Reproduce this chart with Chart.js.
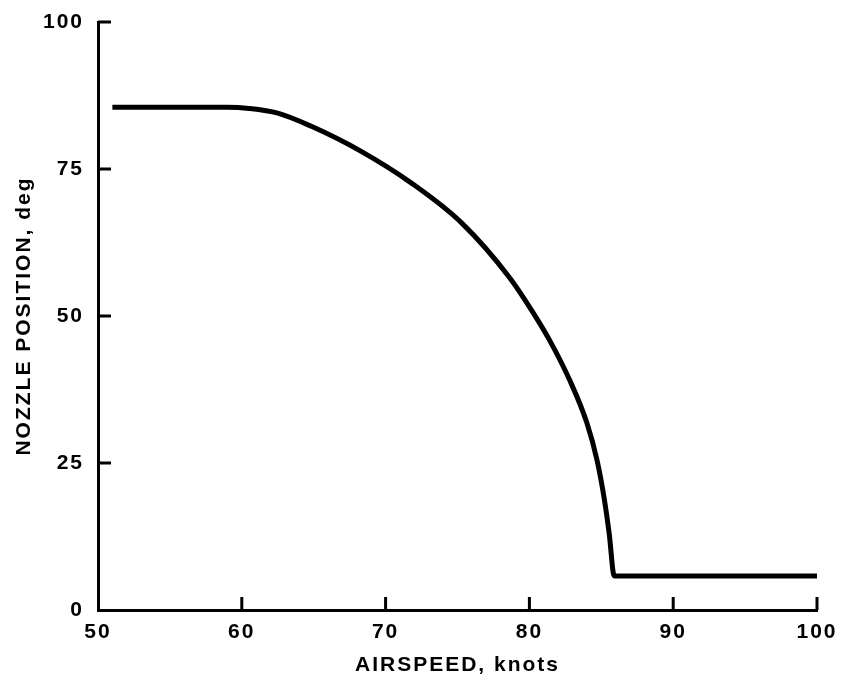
<!DOCTYPE html>
<html>
<head>
<meta charset="utf-8">
<title>Nozzle position vs airspeed</title>
<script src="https://cdn.jsdelivr.net/npm/chart.js@4"></script>
<style>
    body { margin: 0; background: #fff; }
    #wrap { width: 844px; height: 688px; }
</style>
</head>
<body>
<div id="wrap"><canvas id="chart1"></canvas></div>
<script>
// values
const airspeed = [51, 55, 59, 60.5, 62.5, 64.8, 68.3, 71.8, 75.3, 78.6, 80.2, 81.4, 82.8, 84, 84.7, 85.2, 85.55, 85.9, 100];
const nozzle = [85.5, 85.5, 85.5, 85.3, 84.5, 82.3, 78.0, 72.6, 65.8, 56.6, 50.8, 45.9, 39.1, 31.8, 25.5, 19, 13, 5.8, 5.8];
const xTicks = [50, 60, 70, 80, 90, 100];
const yTicks = [0, 25, 50, 75, 100];

const FONT = 'Liberation Sans, Arial, sans-serif';

// ticks in the original point into the plot
const innerTicks = {
    id: 'innerTicks',
    beforeDraw(chart) {
        chart.ctx.letterSpacing = '2px';
    },
    afterDraw(chart) {
        const ctx = chart.ctx;
        const x = chart.scales.x;
        const y = chart.scales.y;
        ctx.save();
        ctx.strokeStyle = '#000';
        ctx.lineWidth = 3;
        ctx.beginPath();
        xTicks.slice(1).forEach(v => {
            const px = x.getPixelForValue(v);
            ctx.moveTo(px, y.bottom);
            ctx.lineTo(px, y.bottom - 13);
        });
        yTicks.slice(1).forEach(v => {
            const py = y.getPixelForValue(v);
            ctx.moveTo(x.left, py);
            ctx.lineTo(x.left + 13, py);
        });
        ctx.stroke();
        ctx.restore();
    }
};

window.addEventListener('DOMContentLoaded', () => {
    const ctx1 = document.getElementById('chart1').getContext('2d');
    new Chart(ctx1, {
        type: 'line',
        data: {
            datasets: [{
                label: 'Nozzle position',
                data: airspeed.map((a, i) => ({ x: a, y: nozzle[i] })),
                borderColor: '#000',
                borderWidth: 5,
                fill: false,
                cubicInterpolationMode: 'monotone',
                pointRadius: 0
            }]
        },
        options: {
            responsive: true,
            maintainAspectRatio: false,
            animation: false,
            layout: { padding: { top: 22, right: 27, left: 0, bottom: 0 } },
            plugins: {
                legend: { display: false },
                tooltip: { enabled: false }
            },
            scales: {
                x: {
                    type: 'linear',
                    min: 50,
                    max: 100,
                    afterFit: s => { s.height = 78; },
                    afterBuildTicks: s => { s.ticks = xTicks.map(v => ({ value: v })); },
                    grid: { display: false },
                    border: { color: '#000', width: 3 },
                    ticks: {
                        color: '#000',
                        padding: 2,
                        maxRotation: 0,
                        font: { family: FONT, size: 21, weight: 'bold' }
                    },
                    title: {
                        display: true,
                        text: 'AIRSPEED, knots',
                        color: '#000',
                        padding: { top: 0, bottom: 10 },
                        font: { family: FONT, size: 21, weight: 'bold' }
                    }
                },
                y: {
                    min: 0,
                    max: 100,
                    afterFit: s => { s.width = 98; },
                    afterBuildTicks: s => { s.ticks = yTicks.map(v => ({ value: v })); },
                    grid: { display: false },
                    border: { color: '#000', width: 3 },
                    ticks: {
                        color: '#000',
                        padding: 6,
                        font: { family: FONT, size: 21, weight: 'bold' }
                    },
                    title: {
                        display: true,
                        text: 'NOZZLE POSITION, deg',
                        color: '#000',
                        padding: { top: 12, bottom: 0 },
                        font: { family: FONT, size: 21, weight: 'bold' }
                    }
                }
            }
        },
        plugins: [innerTicks]
    });
});
</script>
</body>
</html>
